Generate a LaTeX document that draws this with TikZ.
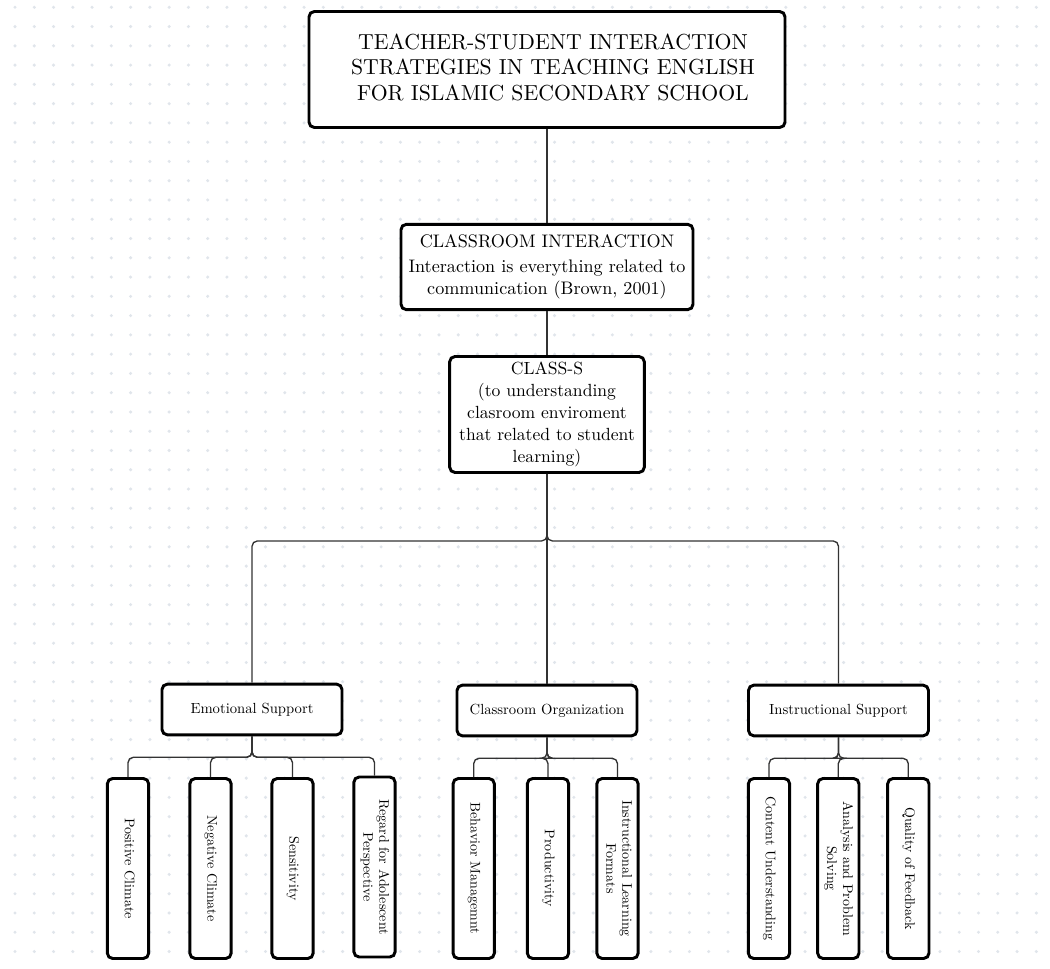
\documentclass[tikz,border=0pt]{standalone}
\usepackage{fontspec}
\setmainfont{lmroman10-regular.otf}
\usepackage{graphicx}
\definecolor{dotc}{HTML}{E0E5EB}
\definecolor{edgec}{HTML}{333333}
\tikzset{
  box/.style={draw=black, line width=2.2pt, rounded corners=4pt, fill=white, inner sep=0pt, align=center},
  topbox/.style={box, minimum width=357pt, minimum height=87pt, font=\fontsize{16.3}{19.1}\selectfont},
  cibox/.style={box, minimum width=219pt, minimum height=64pt, font=\fontsize{13.6}{16.5}\selectfont},
  csbox/.style={box, minimum width=146pt, minimum height=87pt, font=\fontsize{13.2}{16.5}\selectfont},
  catbox/.style={box, minimum width=135pt, minimum height=38pt, font=\fontsize{11}{13}\selectfont},
  leafbox/.style={box, minimum width=31pt, minimum height=135pt, font=\fontsize{10.5}{12}\selectfont},
  edge/.style={draw=edgec, line width=1pt, rounded corners=4pt}
}
\newcommand{\lf}[1]{\rotatebox{-90}{\begin{tabular}{@{}c@{}}#1\end{tabular}}}
\begin{document}
\begin{tikzpicture}[x=0.75pt, y=-0.75pt]
\fill[white] (0,0) rectangle (1050,969);
\useasboundingbox (0,0) rectangle (1050,969);
\foreach \i in {0,...,54} {
  \foreach \j in {0,...,50} {
    \fill[dotc] ({15+19.27*\i},{7.3+19.27*\j}) circle (1.7);
  }
}
% main chain
\node[topbox] (top) at (547,69.5) {\hspace*{9pt}\raisebox{1.5pt}{\begin{tabular}{@{}c@{}}TEACHER-STUDENT INTERACTION\\STRATEGIES IN TEACHING ENGLISH\\FOR ISLAMIC SECONDARY SCHOOL\end{tabular}}};
\node[cibox] (ci) at (547,267) {CLASSROOM INTERACTION\\[2.5pt]Interaction is everything related to\\communication (Brown, 2001)};
\node[csbox] (cs) at (547,414.5) {CLASS-S\\(to understanding\\clasroom enviroment\\that related to student\\learning)};
% categories
\node[catbox] (es) at (252,709.5) {Emotional Support};
\node[catbox] (co) at (547,710.5) {Classroom Organization};
\node[catbox] (is) at (838.5,710.5) {Instructional Support};
% leaves
\node[leafbox] (pc) at (128,868.5) {\lf{Positive Climate}};
\node[leafbox] (nc) at (210.5,868.5) {\lf{Negative Climate}};
\node[leafbox] (se) at (292.5,868.5) {\lf{Sensitivity}};
\node[leafbox] (ra) at (374.5,867) {\lf{Regard for Adolescent\\Perspective}};
\node[leafbox] (bm) at (473.7,868.5) {\lf{Behavior Managemnt}};
\node[leafbox] (pr) at (548,868.5) {\lf{Productivity}};
\node[leafbox] (il) at (617.5,868.5) {\lf{Instructional Learning\\Formats}};
\node[leafbox] (cu) at (769,868.5) {\lf{Content Understanding}};
\node[leafbox] (ap) at (838.3,868.5) {\lf{Analysis and Problem\\Solving}};
\node[leafbox] (qf) at (908.3,868.5) {\lf{Quality of Feedback}};
% edges
\draw[edge] (top.south) -- (ci.north);
\draw[edge] (ci.south) -- (cs.north);
\draw[edge] (cs.south) -- ++(0,67) -| (es.north);
\draw[edge] (cs.south) -- (co.north);
\draw[edge] (cs.south) -- ++(0,67) -| (is.north);
\foreach \c in {pc,nc,se,ra} \draw[edge] (es.south) -- ++(0,21) -| (\c.north);
\foreach \c in {bm,pr,il} \draw[edge] (co.south) -- ++(0,21) -| (\c.north);
\foreach \c in {cu,ap,qf} \draw[edge] (is.south) -- ++(0,21) -| (\c.north);
\end{tikzpicture}
\end{document}
